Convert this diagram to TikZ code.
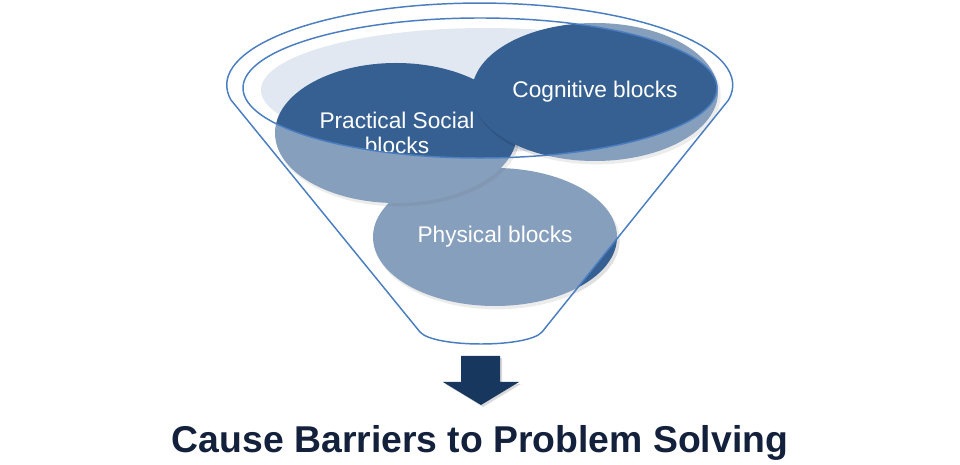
\documentclass[tikz,border=0pt]{standalone}
\usepackage{fontspec}
\setmainfont{Liberation Sans}
\usetikzlibrary{shapes.geometric}
\definecolor{darkblk}{RGB}{54,96,146}
\definecolor{rimblue}{RGB}{74,126,193}
\definecolor{mouthfill}{RGB}{226,232,241}
\definecolor{arrownavy}{RGB}{23,55,94}
\definecolor{titlenavy}{RGB}{20,33,61}
\begin{document}
\begin{tikzpicture}[x=0.75pt,y=0.75pt,
  blockell/.style={ellipse, fill=darkblk, inner sep=0pt},
  shadowell/.style={ellipse, fill=black, fill opacity=0.12, inner sep=0pt},
  blocktext/.style={text=white, align=center, font=\fontsize{17}{18.75}\selectfont},
  funnelline/.style={draw=rimblue, line width=1.1pt}]
\useasboundingbox (0,0) rectangle (960,464);
\fill[white] (0,0) rectangle (960,464);
% mouth shading
\fill[mouthfill] (486,374) ellipse [x radius=225, y radius=62];
% blocks with soft shadows
\node[shadowell, minimum width=184pt, minimum height=104pt] (physs) at (497,224) {};
\node[blockell, minimum width=183pt, minimum height=103.5pt] (phys) at (495,227) {};
\node[shadowell, minimum width=182.5pt, minimum height=105.5pt] (pracs) at (398,328) {};
\node[blockell, minimum width=181.5pt, minimum height=105pt] (prac) at (396,331) {};
\node[shadowell, minimum width=185.5pt, minimum height=104pt] (cogns) at (597,369) {};
\node[blockell, minimum width=184.5pt, minimum height=103.5pt] (cogn) at (595,372) {};
% translucent funnel body
\fill[white, opacity=0.4, even odd rule]
  (231,364) arc[start angle=190.5, end angle=-10.5, x radius=253, y radius=82]
  -- (542,132) .. controls (528,116) and (434,116) .. (420,132) -- cycle
  (480,376) ellipse [x radius=237, y radius=70];
% funnel outline
\draw[funnelline]
  (231,364) arc[start angle=190.5, end angle=-10.5, x radius=253, y radius=82]
  -- (542,132) .. controls (528,116) and (434,116) .. (420,132) -- cycle;
\draw[funnelline] (480,376) ellipse [x radius=237, y radius=70];
% texts
\node[blocktext] (cognt) at (cogn.center) {Cognitive blocks};
\node[blocktext] (physt) at (phys.center) {Physical blocks};
\begin{scope}
  \clip (480,376) ellipse [x radius=236, y radius=69];
  \node[blocktext] (pract) at (397,331) {Practical Social\\blocks};
\end{scope}
% arrow with faint shadow
\fill[black, opacity=0.15] (463,106) -- (502,106) -- (502,80) -- (521,80) -- (483,57)
  -- (445,80) -- (463,80) -- cycle;
\fill[arrownavy] (461,108) -- (500,108) -- (500,82) -- (519,82) -- (481,59)
  -- (443,82) -- (461,82) -- cycle;
% title
\node[text=titlenavy, font=\bfseries\fontsize{28}{34}\selectfont] (title) at (480,21) {Cause Barriers to Problem Solving};
\end{tikzpicture}
\end{document}
